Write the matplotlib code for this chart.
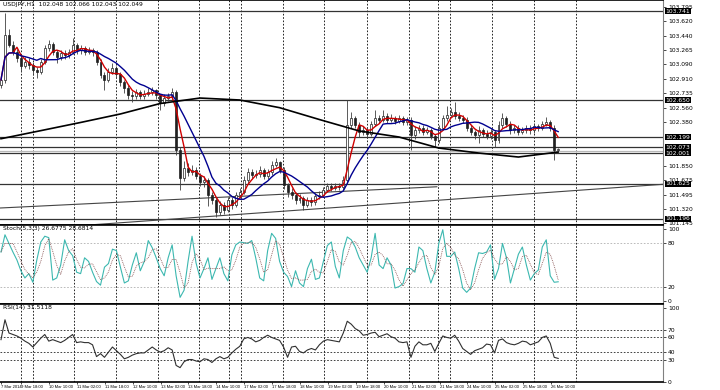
import numpy as np
import pandas as pd
import matplotlib
matplotlib.use('Agg')
import matplotlib.pyplot as plt
from matplotlib.transforms import blended_transform_factory

# USDJPY H1, values (one bar here ~ 2.3 hours)
first_open = 102.84
close = [102.90, 103.45, 103.33, 103.24, 103.17, 103.07, 103.12, 103.08, 103.02, 103.00,
         103.12, 103.29, 103.34, 103.24, 103.18, 103.23, 103.20, 103.24, 103.33, 103.26,
         103.29, 103.24, 103.26, 103.24, 103.12, 102.96, 102.90, 103.00, 103.04, 102.97,
         102.87, 102.80, 102.71, 102.70, 102.75, 102.70, 102.73, 102.75, 102.77, 102.71,
         102.62, 102.68, 102.70, 102.75, 102.04, 101.70, 101.82, 101.77, 101.80, 101.72,
         101.65, 101.67, 101.49, 101.43, 101.28, 101.37, 101.31, 101.43, 101.37, 101.49,
         101.53, 101.67, 101.77, 101.73, 101.75, 101.80, 101.72, 101.77, 101.86, 101.89,
         101.80, 101.61, 101.53, 101.49, 101.43, 101.45, 101.37, 101.43, 101.40, 101.48,
         101.49, 101.55, 101.60, 101.58, 101.60, 101.59, 101.67, 102.35, 102.43, 102.35,
         102.26, 102.28, 102.24, 102.36, 102.43, 102.41, 102.46, 102.41, 102.43, 102.40,
         102.43, 102.38, 102.41, 102.22, 102.28, 102.31, 102.26, 102.28, 102.21, 102.16,
         102.31, 102.43, 102.47, 102.51, 102.46, 102.43, 102.41, 102.31, 102.26, 102.22,
         102.28, 102.24, 102.21, 102.26, 102.16, 102.35, 102.43, 102.36, 102.28, 102.31,
         102.26, 102.28, 102.31, 102.28, 102.33, 102.31, 102.36, 102.38, 102.31, 102.04,
         102.049]
high = [102.95, 103.72, 103.52, 103.38, 103.28, 103.20, 103.18, 103.16, 103.12, 103.06,
        103.15, 103.33, 103.39, 103.36, 103.27, 103.27, 103.26, 103.28, 103.41, 103.35,
        103.32, 103.31, 103.30, 103.29, 103.27, 103.15, 103.00, 103.04, 103.11, 103.07,
        103.00, 102.90, 102.83, 102.76, 102.79, 102.78, 102.77, 102.80, 102.81, 102.79,
        102.73, 102.72, 102.74, 102.80, 102.78, 102.08, 101.90, 101.88, 101.86, 101.83,
        101.76, 101.72, 101.70, 101.53, 101.46, 101.42, 101.40, 101.47, 101.46, 101.53,
        101.58, 101.72, 101.82, 101.81, 101.79, 101.84, 101.82, 101.81, 101.90, 101.94,
        101.91, 101.83, 101.64, 101.57, 101.52, 101.50, 101.48, 101.47, 101.46, 101.51,
        101.54, 101.59, 101.64, 101.63, 101.63, 101.64, 101.72, 102.65, 102.50, 102.46,
        102.38, 102.33, 102.31, 102.40, 102.53, 102.47, 102.53, 102.49, 102.48, 102.46,
        102.47, 102.46, 102.45, 102.44, 102.33, 102.35, 102.34, 102.32, 102.31, 102.24,
        102.35, 102.47, 102.58, 102.55, 102.63, 102.50, 102.47, 102.44, 102.34, 102.29,
        102.33, 102.31, 102.28, 102.30, 102.29, 102.39, 102.49, 102.46, 102.39, 102.35,
        102.34, 102.32, 102.35, 102.34, 102.37, 102.36, 102.40, 102.45, 102.41, 102.34,
        102.066]
low = [102.80, 102.86, 103.30, 103.20, 103.12, 102.99, 103.04, 103.03, 102.96, 102.92,
       102.97, 103.09, 103.25, 103.20, 103.10, 103.14, 103.15, 103.17, 103.21, 103.22,
       103.22, 103.20, 103.21, 103.19, 103.08, 102.92, 102.78, 102.87, 102.97, 102.92,
       102.82, 102.74, 102.66, 102.63, 102.66, 102.66, 102.67, 102.70, 102.71, 102.66,
       102.53, 102.58, 102.64, 102.67, 101.98, 101.55, 101.66, 101.72, 101.74, 101.68,
       101.60, 101.59, 101.36, 101.38, 101.22, 101.25, 101.26, 101.28, 101.32, 101.34,
       101.45, 101.50, 101.64, 101.69, 101.70, 101.71, 101.68, 101.69, 101.74, 101.83,
       101.76, 101.56, 101.47, 101.44, 101.38, 101.39, 101.30, 101.34, 101.35, 101.37,
       101.44, 101.46, 101.52, 101.54, 101.55, 101.55, 101.55, 101.64, 102.31, 102.31,
       102.20, 102.22, 102.20, 102.21, 102.33, 102.37, 102.38, 102.37, 102.38, 102.36,
       102.37, 102.34, 102.35, 102.04, 102.18, 102.25, 102.22, 102.23, 102.17, 102.08,
       102.13, 102.28, 102.40, 102.44, 102.42, 102.39, 102.37, 102.27, 102.22, 102.18,
       102.12, 102.20, 102.17, 102.18, 102.08, 102.13, 102.31, 102.32, 102.24, 102.25,
       102.22, 102.23, 102.25, 102.24, 102.25, 102.27, 102.28, 102.33, 102.27, 101.92,
       102.043]

# long moving average (black), sampled every 10 bars
ma_long_bars = [0, 10, 20, 30, 40, 50, 60, 70, 80, 90, 100, 110, 120, 130, 140]
ma_long = [102.178, 102.277, 102.377, 102.481, 102.609, 102.676, 102.652, 102.558,
           102.413, 102.273, 102.199, 102.064, 102.003, 101.954, 102.015]

stoch_k = [68, 92, 80, 68, 57, 42, 32, 38, 26, 57,
           82, 90, 88, 29, 32, 50, 85, 70, 63, 40,
           38, 60, 55, 40, 27, 22, 47, 52, 72, 70,
           47, 25, 28, 50, 67, 42, 55, 84, 74, 60,
           45, 35, 60, 78, 35, 5, 15, 55, 90, 53,
           32, 45, 60, 30, 45, 60, 38, 28, 64, 78,
           82, 81, 80, 84, 60, 32, 28, 70, 94, 87,
           55, 40, 34, 20, 42, 25, 20, 45, 58, 30,
           32, 55, 77, 82, 48, 32, 70, 89, 85, 75,
           60, 50, 40, 60, 94, 50, 45, 60, 50, 18,
           20, 24, 45, 45, 40, 75, 70, 45, 25, 40,
           80, 99, 62, 62, 68, 45, 18, 12, 18, 45,
           67, 66, 68, 78, 30, 45, 80, 60, 25, 45,
           65, 75, 50, 29, 38, 43, 75, 85, 35, 26,
           26.68]

rsi = [57, 84, 66, 64, 62, 59, 55, 52, 47, 53,
       59, 64, 55, 57, 55, 53, 56, 60, 64, 53,
       54, 53, 53, 50, 34, 38, 33, 40, 47, 42,
       37, 31, 33, 36, 38, 39, 39, 43, 47, 43,
       40, 42, 46, 43, 22, 19, 27, 30, 30, 28,
       27, 31, 30, 26, 31, 34, 31, 33, 39, 44,
       48, 58, 60, 58, 54, 56, 60, 63, 60, 58,
       56, 47, 33, 47, 48, 41, 39, 43, 45, 43,
       50, 55, 57, 56, 55, 54, 66, 82, 78, 72,
       69, 63, 64, 66, 67, 61, 63, 65, 61, 59,
       54, 53, 54, 33, 48, 54, 50, 50, 52, 41,
       52, 62, 60, 59, 63, 55, 45, 41, 37, 42,
       44, 46, 51, 50, 39, 56, 58, 53, 51, 50,
       52, 55, 54, 50, 52, 54, 60, 62, 52, 33,
       31.51]

# horizontal line objects and their price tags
h_lines = [103.741, 102.650, 102.199, 102.073, 102.001, 101.625, 101.196]
bid_line = 102.030
# trendlines: (bar, price) anchors
trend_a = ([-0.25, 109.5], [101.33, 101.59])
trend_b = ([18.6, 166.3], [101.11, 101.62])

price_ticks = [103.795, 103.620, 103.440, 103.265, 103.090, 102.910, 102.735,
               102.560, 102.380, 101.850, 101.675, 101.495, 101.320, 101.145]

date_labels = ['7 Mar 2014', '9 Mar 18:00', '10 Mar 10:00', '11 Mar 02:00', '11 Mar 18:00',
               '12 Mar 10:00', '13 Mar 02:00', '13 Mar 18:00', '14 Mar 10:00', '17 Mar 02:00',
               '17 Mar 18:00', '18 Mar 10:00', '19 Mar 02:00', '19 Mar 18:00', '20 Mar 10:00',
               '21 Mar 02:00', '21 Mar 18:00', '24 Mar 10:00', '25 Mar 02:00', '25 Mar 18:00',
               '26 Mar 10:00']

# layout in pixels -> bar units
PX_PER_BAR = 3.98
def px2bar(px):
    return (np.asarray(px, dtype=float) - 1) / PX_PER_BAR

grid_px = [21, 33, 74, 116, 158, 199, 229, 241, 283, 324, 367, 409, 438, 450, 492, 534, 576]
date_px = [1] + [21 + 27.9 * k for k in range(len(date_labels) - 1)]

FS = 4.3
W, H = 720, 390
fig = plt.figure(figsize=(W / 100, H / 100), dpi=100)
right = 663 / W
ax = fig.add_axes([0, 1 - 225 / H, right, 225 / H])
ax_st = fig.add_axes([0, 1 - 304 / H, right, 79 / H])
ax_rsi = fig.add_axes([0, 1 - 382 / H, right, 78 / H])

n = len(close)
x = np.arange(n)
opens = [first_open] + close[:-1]
o = np.array(opens)
c = np.array(close)
cs = pd.Series(close)

xlim = (px2bar(0), px2bar(663))
for a in (ax, ax_st, ax_rsi):
    a.set_xlim(*xlim)
    a.set_facecolor('white')
    for g in px2bar(grid_px):
        a.axvline(g, color='black', lw=0.6, ls=(0, (2, 2)), zorder=1)
    a.yaxis.tick_right()
    a.tick_params(axis='y', labelsize=FS, length=2, pad=1.5, width=0.5, colors='black')
    for s in ('top', 'bottom'):
        a.spines[s].set_linewidth(1.2)
    a.spines['left'].set_visible(False)
    a.spines['right'].set_color('#808080')
    a.spines['right'].set_linewidth(0.8)

# ---- main price panel
ax.set_ylim(101.122, 103.876)
for p in h_lines:
    ax.axhline(p, color='#333333', lw=0.9, zorder=2)
ax.axhline(bid_line, color='#b8b8b8', lw=0.9, zorder=2)
ax.plot(*trend_a, color='#444444', lw=0.8, zorder=2)
ax.plot(*trend_b, color='#444444', lw=0.8, zorder=2)

ax.vlines(x, low, high, color='#404040', lw=0.6, zorder=3)
bull = c >= o
body_lo = np.minimum(o, c)
body_h = np.maximum(np.abs(c - o), 0.006)
ax.bar(x[bull], body_h[bull], bottom=body_lo[bull], width=0.5, color='white',
       edgecolor='#202020', linewidth=0.5, zorder=4)
ax.bar(x[~bull], body_h[~bull], bottom=body_lo[~bull], width=0.5, color='#202020',
       edgecolor='#202020', linewidth=0.5, zorder=4)

ax.plot(x, cs.rolling(4, min_periods=1).mean(), color='#d00000', lw=1.0, zorder=5)
ax.plot(x, cs.rolling(10, min_periods=1).mean(), color='#000090', lw=1.0, zorder=5)
ax.plot(ma_long_bars, ma_long, color='black', lw=1.2, zorder=5)

ax.set_yticks(price_ticks)
ax.set_yticklabels([f'{v:.3f}' for v in price_ticks])
ax.set_xticks([])
tr = blended_transform_factory(ax.transAxes, ax.transData)
for p in h_lines:
    ax.text(1.004, p, f'{p:.3f}', transform=tr, fontsize=FS, color='white', va='center',
            ha='left', bbox=dict(boxstyle='square,pad=0.1', fc='black', ec='none'),
            clip_on=False, zorder=10)
ax.text(0.004, 0.99, 'USDJPY,H1  102.048 102.066 102.043 102.049', transform=ax.transAxes,
        fontsize=FS, va='top', ha='left')

# ---- stochastic panel
ax_st.set_ylim(-4.2, 105.6)
for lv in (80, 20):
    ax_st.axhline(lv, color='#b0b0b0', lw=0.6, ls=(0, (2, 2)), zorder=1)
k = pd.Series(stoch_k)
ax_st.plot(x, k, color='#3cb8b0', lw=0.8, zorder=3)
ax_st.plot(x, k.rolling(3, min_periods=1).mean(), color='#804848', lw=0.6,
           ls=(0, (1, 1.2)), zorder=3)
ax_st.set_yticks([100, 80, 20, 0])
ax_st.set_xticks([])
ax_st.text(0.004, 0.985, 'Stoch(5,3,3) 26.6775 28.6814', transform=ax_st.transAxes,
           fontsize=FS, va='top', ha='left')

# ---- RSI panel
ax_rsi.set_ylim(-0.5, 105.4)
for lv in (70, 60, 40, 30):
    ax_rsi.axhline(lv, color='#222222', lw=0.6, ls=(0, (2, 2)), zorder=1)
ax_rsi.plot(x, rsi, color='#303030', lw=0.8, zorder=3)
ax_rsi.set_yticks([100, 70, 60, 40, 30, 0])
ax_rsi.text(0.004, 0.985, 'RSI(14) 31.5118', transform=ax_rsi.transAxes,
            fontsize=FS, va='top', ha='left')
ax_rsi.set_xticks(px2bar(date_px))
ax_rsi.set_xticklabels(date_labels, ha='left', family='Liberation Sans')
ax_rsi.tick_params(axis='x', labelsize=3.0, length=1.5, pad=0.5, width=0.5)

fig.savefig('out.png', dpi=100)
